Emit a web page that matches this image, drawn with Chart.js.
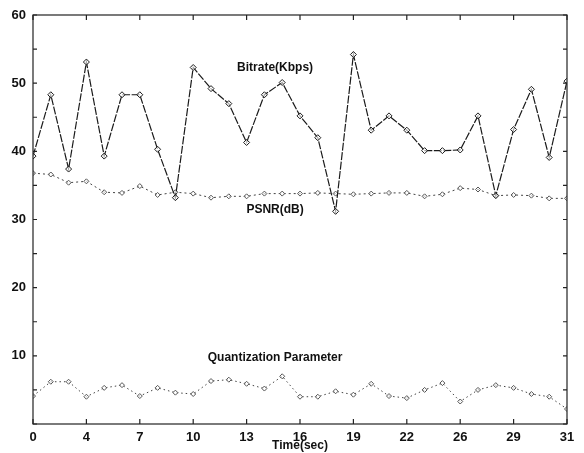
<!DOCTYPE html>
<html>
<head>
<meta charset="utf-8">
<script src="https://cdn.jsdelivr.net/npm/chart.js@4.4.0/dist/chart.umd.min.js"></script>
<style>
  html, body { margin: 0; padding: 0; background: #fff; }
  #wrap { width: 584px; height: 453px; }
</style>
</head>
<body>
<div id="wrap"><canvas id="chart" width="584" height="453"></canvas></div>
<script>
// values, one per sample (31 samples)
const timeTickLabels = ['0', '4', '7', '10', '13', '16', '19', '22', '26', '29', '31'];
const bitrate = [39.3, 48.3, 37.4, 53.1, 39.3, 48.3, 48.3, 40.3, 33.2, 52.3, 49.2,
  47.0, 41.3, 48.3, 50.1, 45.2, 42.0, 31.2, 54.2, 43.1, 45.2,
  43.1, 40.1, 40.1, 40.2, 45.2, 33.5, 43.2, 49.1, 39.1, 50.3];
const psnr = [36.8, 36.6, 35.4, 35.6, 34.0, 33.9, 34.9, 33.6, 34.0, 33.8, 33.2,
  33.4, 33.4, 33.8, 33.8, 33.8, 33.9, 33.8, 33.7, 33.8, 33.9,
  33.9, 33.4, 33.7, 34.6, 34.4, 33.5, 33.6, 33.5, 33.1, 33.1];
const qp = [4.1, 6.2, 6.2, 4.0, 5.3, 5.7, 4.1, 5.3, 4.6, 4.4, 6.3,
  6.5, 5.9, 5.2, 7.0, 4.0, 4.0, 4.8, 4.3, 5.9, 4.1,
  3.8, 5.0, 6.0, 3.3, 5.0, 5.7, 5.3, 4.4, 4.0, 2.2];
const seriesNames = ['Bitrate(Kbps)', 'PSNR(dB)', 'Quantization Parameter'];
// where each in-plot label sits, in data units [sample, value]
const labelSpots = [[13.6, 52.2], [13.6, 31.4], [13.6, 9.8]];

const font = { family: 'Liberation Sans, Arial, sans-serif', size: 13, weight: 'bold' };

const toPts = arr => arr.map((v, i) => ({ x: i, y: v }));

// matlab style box with inward ticks, plus the text labels
const matlabFrame = {
  id: 'matlabFrame',
  afterDatasetsDraw(chart) {
    const { ctx, chartArea: a, scales: { x, y } } = chart;
    ctx.save();
    ctx.strokeStyle = '#222';
    ctx.lineWidth = 1.2;
    ctx.strokeRect(a.left, a.top, a.right - a.left, a.bottom - a.top);
    ctx.beginPath();
    x.ticks.forEach(t => {
      const p = x.getPixelForValue(t.value);
      ctx.moveTo(p, a.bottom); ctx.lineTo(p, a.bottom - 5);
      ctx.moveTo(p, a.top); ctx.lineTo(p, a.top + 5);
    });
    y.ticks.forEach(t => {
      const p = y.getPixelForValue(t.value);
      ctx.moveTo(a.left, p); ctx.lineTo(a.left + 4, p);
      ctx.moveTo(a.right, p); ctx.lineTo(a.right - 4, p);
    });
    ctx.stroke();

    ctx.fillStyle = '#111';
    ctx.font = 'bold 12px Liberation Sans, Arial, sans-serif';
    ctx.textAlign = 'center';
    ctx.textBaseline = 'middle';
    seriesNames.forEach((name, i) => {
      const [sx, sy] = labelSpots[i];
      ctx.fillText(name, x.getPixelForValue(sx), y.getPixelForValue(sy));
    });
    ctx.restore();
  }
};

new Chart(document.getElementById('chart'), {
  type: 'line',
  data: {
    datasets: [
      {
        label: seriesNames[0],
        data: toPts(bitrate),
        borderColor: '#1a1a1a',
        borderWidth: 1.2,
        borderDash: [8, 1.5],
        pointStyle: 'rectRot',
        pointRadius: 3,
        pointBorderWidth: 1,
        pointBorderColor: '#1a1a1a',
        pointBackgroundColor: 'rgba(255,255,255,0.6)',
        tension: 0,
      },
      {
        label: seriesNames[1],
        data: toPts(psnr),
        borderColor: '#444',
        borderWidth: 1,
        borderDash: [2, 3],
        pointStyle: 'rectRot',
        pointRadius: 2.5,
        pointBorderWidth: 1,
        pointBorderColor: '#555',
        pointBackgroundColor: 'rgba(255,255,255,0.6)',
        tension: 0,
      },
      {
        label: seriesNames[2],
        data: toPts(qp),
        borderColor: '#444',
        borderWidth: 1,
        borderDash: [1.5, 3],
        pointStyle: 'rectRot',
        pointRadius: 2.5,
        pointBorderWidth: 1,
        pointBorderColor: '#555',
        pointBackgroundColor: 'rgba(255,255,255,0.6)',
        tension: 0,
      },
    ],
  },
  options: {
    responsive: false,
    animation: false,
    layout: { padding: { top: 15, right: 17, left: 0, bottom: 0 } },
    plugins: {
      legend: { display: false },
      tooltip: { enabled: false },
    },
    scales: {
      x: {
        type: 'linear',
        min: 0,
        max: 30,
        grid: { display: false, drawTicks: false },
        border: { display: false },
        ticks: {
          stepSize: 3,
          padding: 6,
          color: '#111',
          font: font,
          maxRotation: 0,
          callback: v => timeTickLabels[Math.round(v / 3)],
        },
        title: {
          display: true,
          text: 'Time(sec)',
          color: '#111',
          font: { family: font.family, size: 12, weight: 'bold' },
          padding: { top: 0, bottom: 0 },
        },
        afterFit: s => { s.height = 29; },
      },
      y: {
        min: 0,
        max: 60,
        grid: { display: false, drawTicks: false },
        border: { display: false },
        ticks: {
          stepSize: 5,
          padding: 7,
          color: '#111',
          font: font,
          autoSkip: false,
          callback: v => (v > 0 && v % 10 === 0 ? String(v) : ''),
        },
        afterFit: s => { s.width = 33; },
      },
    },
  },
  plugins: [matlabFrame],
});
</script>
</body>
</html>
